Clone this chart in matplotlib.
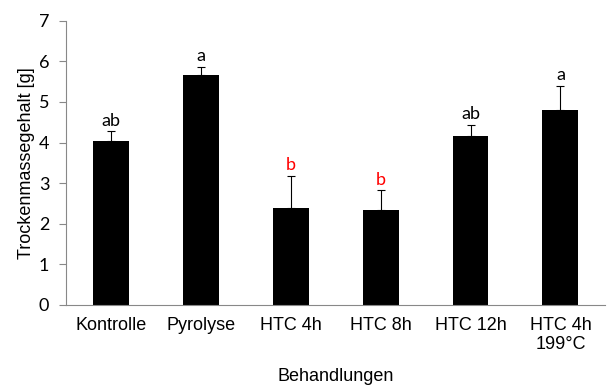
import numpy as np
import matplotlib.pyplot as plt

categories = ["Kontrolle", "Pyrolyse", "HTC 4h", "HTC 8h", "HTC 12h", "HTC 4h\n199°C"]
means = [4.05, 5.67, 2.39, 2.34, 4.17, 4.80]
errors = [0.23, 0.20, 0.79, 0.48, 0.26, 0.59]
letters = ["ab", "a", "b", "b", "ab", "a"]
letter_colors = ["black", "black", "red", "red", "black", "black"]

fig = plt.figure(figsize=(6.08, 3.85), dpi=100)
ax = fig.add_axes([0.1086, 0.208, 0.887, 0.738])

x = np.arange(len(categories))
ax.bar(x, means, width=0.4, color="black",
       yerr=[np.zeros(len(means)), errors],
       error_kw=dict(ecolor="black", elinewidth=0.8, capsize=3.2, capthick=0.8))

# significance letters above the error bars
for i in range(len(x)):
    ax.text(x[i], means[i] + errors[i] + 0.14, letters[i], ha="center", va="baseline",
            fontsize=13, color=letter_colors[i], family="Lato")

ax.set_xlim(-0.5, len(categories) - 0.5)
ax.set_ylim(0, 7)
ax.set_yticks(range(0, 8))
ax.set_xticks(x)
ax.set_xticklabels(categories, fontsize=13, family="Liberation Sans", linespacing=1.1)
for lab in ax.get_yticklabels():
    lab.set_family("Lato")
    lab.set_fontsize(13)

ax.tick_params(axis="x", length=0, pad=9)
ax.tick_params(axis="y", length=5, width=0.8, color="#888888", pad=7)
for s in ["top", "right"]:
    ax.spines[s].set_visible(False)
for s in ["left", "bottom"]:
    ax.spines[s].set_color("#888888")

ax.set_xlabel("Behandlungen", fontsize=13, family="Liberation Sans", labelpad=11)
ax.set_ylabel("Trockenmassegehalt [g]", fontsize=13, family="Liberation Sans", labelpad=3)

fig.savefig("out.png", dpi=100)
